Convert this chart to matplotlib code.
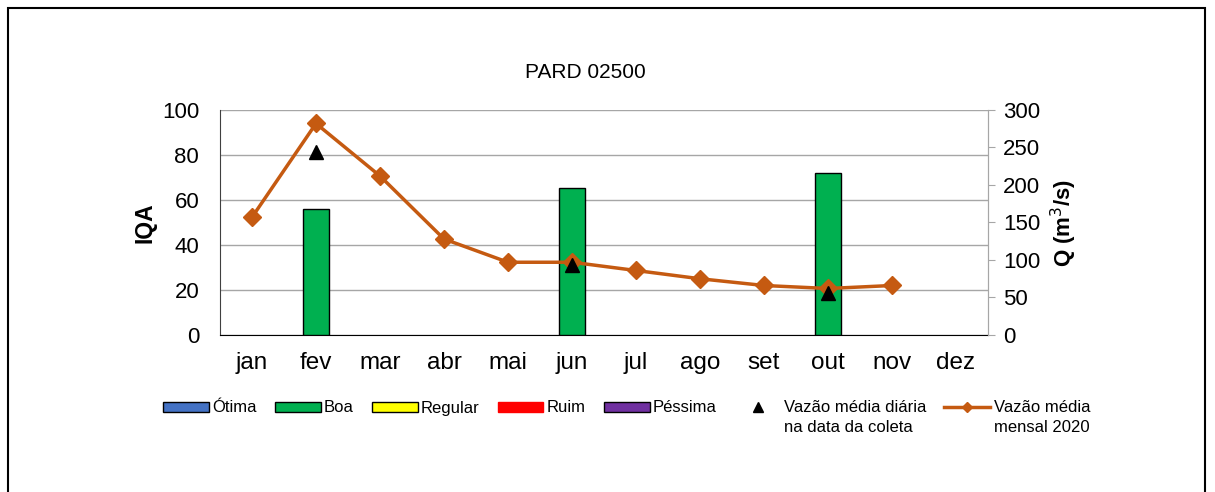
import matplotlib
matplotlib.use("Agg")
import matplotlib.pyplot as plt
from matplotlib.patches import Patch, Rectangle
from matplotlib.lines import Line2D
import numpy as np

plt.rcParams['font.family'] = ['Liberation Sans', 'DejaVu Sans']

# dados
meses = ["jan", "fev", "mar", "abr", "mai", "jun", "jul", "ago", "set", "out", "nov", "dez"]
iqa = [np.nan, 56, np.nan, np.nan, np.nan, 65.5, np.nan, np.nan, np.nan, 72, np.nan, np.nan]
vazao_mensal = [157, 282, 212, 128, 97, 97, 86, 75, 66, 62, 66, np.nan]
vazao_coleta = [np.nan, 244, np.nan, np.nan, np.nan, 93, np.nan, np.nan, np.nan, 56, np.nan, np.nan]

cor_linha = "#C55A11"
x = np.arange(len(meses))

W, H = 1215, 492
fig = plt.figure(figsize=(W / 100, H / 100), dpi=100)
ax = fig.add_axes([220 / W, 1 - 335 / H, 768 / W, 225 / H])

# moldura
fig.patches.append(Rectangle((8 / W, -0.1), 1197 / W, 1.1 - 8 / H, transform=fig.transFigure,
                             fill=False, edgecolor="black", linewidth=1.5))

ax.bar(x, iqa, width=0.4, color="#00B050", edgecolor="black", linewidth=1, zorder=3)
ax.set_ylim(0, 100)
ax.set_yticks(np.arange(0, 101, 20))
ax.set_xlim(-0.5, 11.5)
ax.set_xticks(x)
ax.set_xticklabels(meses, fontsize=17.5)
ax.grid(axis="y", color="#A6A6A6", linewidth=1, zorder=0)
ax.tick_params(axis="y", length=0, labelsize=16, pad=15)
ax.tick_params(axis="x", length=0, pad=12)
ax.set_ylabel("IQA", fontsize=16.5, fontweight="bold", labelpad=4)
ax.spines["top"].set_visible(False)
ax.spines["left"].set_color("#404040")
ax.spines["right"].set_color("#A6A6A6")
ax.spines["bottom"].set_color("black")

ax2 = ax.twinx()
ax2.plot(x, vazao_mensal, color=cor_linha, linewidth=2.5, marker="D", markersize=9, zorder=4)
ax2.plot(x, vazao_coleta, linestyle="none", marker="^", color="black", markersize=10, zorder=5)
ax2.set_ylim(0, 300)
ax2.set_yticks(np.arange(0, 301, 50))
ax2.tick_params(axis="y", labelsize=16, length=5, color="#A6A6A6", pad=6)
ax2.set_ylabel("Q (m$^3$/s)", fontsize=16, fontweight="bold", labelpad=6)
for s in ["top", "left", "bottom"]:
    ax2.spines[s].set_visible(False)
ax2.spines["right"].set_color("#A6A6A6")

fig.text(585 / W, 1 - 73 / H, "PARD 02500", ha="center", va="center", fontsize=15)

handles = [
    Patch(facecolor="#4472C4", edgecolor="black", label="Ótima"),
    Patch(facecolor="#00B050", edgecolor="black", label="Boa"),
    Patch(facecolor="#FFFF00", edgecolor="black", label="Regular"),
    Patch(facecolor="#FF0000", edgecolor="#FF0000", label="Ruim"),
    Patch(facecolor="#7030A0", edgecolor="black", label="Péssima"),
    Line2D([], [], linestyle="none", marker="^", color="black", markersize=7,
           label="Vazão média diária"),
    Line2D([], [], color=cor_linha, linewidth=2.5, marker="D", markersize=5,
           label="Vazão média"),
]
leg = fig.legend(handles=handles, loc="center left", bbox_to_anchor=(148 / W, 1 - 408 / H), ncol=7,
                 frameon=False, fontsize=12, handlelength=2.75, handleheight=0.55, handletextpad=0.2,
                 columnspacing=1.08)

# segunda linha dos rótulos
fig.canvas.draw()
inv = fig.transFigure.inverted()
for t, txt in [(leg.get_texts()[5], "na data da coleta"), (leg.get_texts()[6], "mensal 2020")]:
    bb = t.get_window_extent()
    x0, y0 = inv.transform((bb.x0, bb.y0))
    fig.text(x0, y0 - 20 / H, txt, fontsize=12, ha="left", va="bottom")

fig.savefig("out.png", dpi=100)
